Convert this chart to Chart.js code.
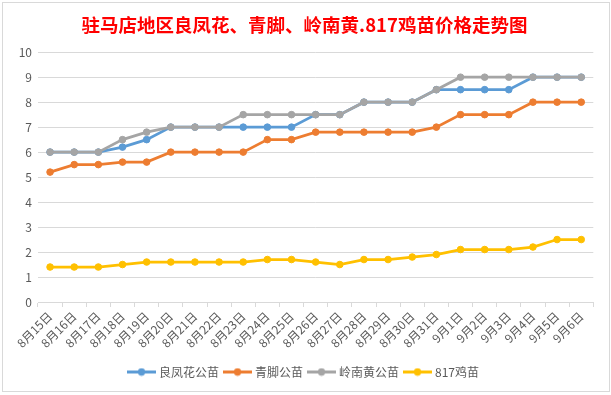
<!DOCTYPE html>
<html>
<head>
<meta charset="utf-8">
<title>驻马店地区鸡苗价格走势图</title>
<script src="https://cdn.jsdelivr.net/npm/chart.js@4"></script>
<style>
    body { margin: 0; background: #fff; }
    canvas { display: block; }
</style>
</head>
<body>
<canvas id="priceChart" width="611" height="395"></canvas>
<script>
// Données
const dates = ['8月15日', '8月16日', '8月17日', '8月18日', '8月19日', '8月20日', '8月21日', '8月22日',
    '8月23日', '8月24日', '8月25日', '8月26日', '8月27日', '8月28日', '8月29日', '8月30日',
    '8月31日', '9月1日', '9月2日', '9月3日', '9月4日', '9月5日', '9月6日'];
const liangfenghua = [6, 6, 6, 6.2, 6.5, 7, 7, 7, 7, 7, 7, 7.5, 7.5, 8, 8, 8, 8.5, 8.5, 8.5, 8.5, 9, 9, 9];
const qingjiao = [5.2, 5.5, 5.5, 5.6, 5.6, 6, 6, 6, 6, 6.5, 6.5, 6.8, 6.8, 6.8, 6.8, 6.8, 7, 7.5, 7.5, 7.5, 8, 8, 8];
const lingnanhuang = [6, 6, 6, 6.5, 6.8, 7, 7, 7, 7.5, 7.5, 7.5, 7.5, 7.5, 8, 8, 8, 8.5, 9, 9, 9, 9, 9, 9];
const ji817 = [1.4, 1.4, 1.4, 1.5, 1.6, 1.6, 1.6, 1.6, 1.6, 1.7, 1.7, 1.6, 1.5, 1.7, 1.7, 1.8, 1.9, 2.1, 2.1, 2.1, 2.2, 2.5, 2.5];
const seriesNames = ['良凤花公苗', '青脚公苗', '岭南黄公苗', '817鸡苗'];
const yTicks = { min: 0, max: 10, step: 1 };

const colors = ['#5B9BD5', '#ED7D31', '#A5A5A5', '#FFC000'];
const font = '"Noto Sans CJK SC", "Noto Sans", sans-serif';

// petit symbole de légende : trait + rond, façon Excel
function makeMarker(color) {
    const c = document.createElement('canvas');
    c.width = 29;
    c.height = 9;
    const g = c.getContext('2d');
    g.strokeStyle = color;
    g.lineWidth = 3;
    g.beginPath();
    g.moveTo(0, 4.5);
    g.lineTo(29, 4.5);
    g.stroke();
    g.fillStyle = color;
    g.beginPath();
    g.arc(14.5, 4.5, 3.7, 0, Math.PI * 2);
    g.fill();
    return c;
}
const markers = colors.map(makeMarker);

function series(label, data, i) {
    return {
        label: label,
        data: data,
        borderColor: colors[i],
        backgroundColor: colors[i],
        pointBackgroundColor: colors[i],
        pointBorderColor: colors[i],
        borderWidth: 2.75,
        pointRadius: 3.3,
        pointBorderWidth: 1,
        tension: 0,
        order: 4 - i   // la dernière série passe au-dessus, comme dans Excel
    };
}

const chartFrame = {
    id: 'chartFrame',
    beforeDraw(chart) {
        const ctx = chart.ctx;
        ctx.save();
        ctx.fillStyle = '#fff';
        ctx.fillRect(0, 0, chart.width, chart.height);
        ctx.strokeStyle = '#d9d9d9';
        ctx.lineWidth = 1;
        ctx.strokeRect(2.5, 2.5, 607, 389);
        ctx.restore();
    }
};

new Chart(document.getElementById('priceChart'), {
    type: 'line',
    data: {
        labels: dates,
        datasets: [
            series(seriesNames[0], liangfenghua, 0),
            series(seriesNames[1], qingjiao, 1),
            series(seriesNames[2], lingnanhuang, 2),
            series(seriesNames[3], ji817, 3)
        ]
    },
    options: {
        responsive: false,
        animation: false,
        layout: { padding: { left: 0, right: 2, top: 0, bottom: 7 } },
        plugins: {
            title: {
                display: true,
                text: '驻马店地区良凤花、青脚、岭南黄.817鸡苗价格走势图',
                color: '#FF0000',
                font: { family: font, size: 18.5, weight: 'bold' },
                padding: { top: 13.5, bottom: 16.5 }
            },
            legend: {
                position: 'bottom',
                labels: {
                    color: '#595959',
                    font: { family: font, size: 12 },
                    usePointStyle: true,
                    pointStyleWidth: 23,
                    padding: 7,
                    sort: (a, b) => a.datasetIndex - b.datasetIndex,
                    generateLabels(chart) {
                        const items = Chart.defaults.plugins.legend.labels.generateLabels(chart);
                        items.forEach(it => { it.pointStyle = markers[it.datasetIndex]; });
                        return items;
                    }
                }
            },
            tooltip: { enabled: false }
        },
        scales: {
            x: {
                offset: true,
                grid: {
                    offset: true,
                    drawOnChartArea: false,
                    drawTicks: true,
                    tickLength: 5,
                    color: '#d9d9d9'
                },
                border: { display: true, color: '#d9d9d9' },
                ticks: {
                    color: '#595959',
                    font: { family: font, size: 12 },
                    minRotation: 45,
                    maxRotation: 45,
                    autoSkip: false,
                    padding: 2
                },
                afterFit(scale) { scale.height = 57; }
            },
            y: {
                min: yTicks.min,
                max: yTicks.max,
                grid: { color: '#d9d9d9', drawTicks: false },
                border: { display: false },
                ticks: {
                    stepSize: yTicks.step,
                    color: '#595959',
                    font: { family: font, size: 12 },
                    padding: 6
                },
                afterFit(scale) { scale.width = 38; }
            },
            // marge droite vide pour caler la zone de tracé
            spacer: {
                position: 'right',
                grid: { display: false },
                border: { display: false },
                ticks: { display: false },
                afterFit(scale) { scale.width = 15.7; }
            }
        }
    },
    plugins: [chartFrame]
});
</script>
</body>
</html>
